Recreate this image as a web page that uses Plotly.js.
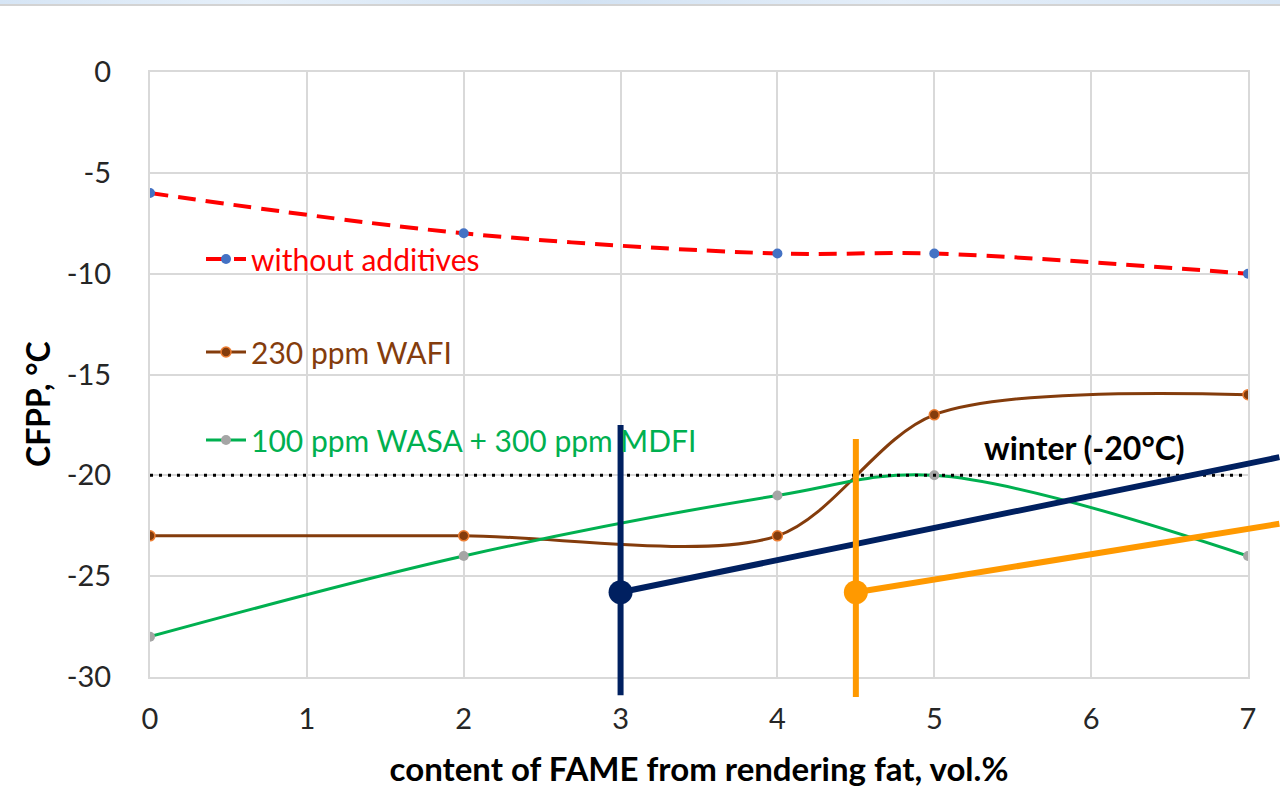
<!DOCTYPE html>
<html><head><meta charset="utf-8">
<script src="https://cdn.plot.ly/plotly-3.0.1.min.js"></script>
<style>
html,body{margin:0;padding:0;background:#fff;overflow:hidden}
#chart{position:absolute;left:0;top:0;width:1280px;height:807px}
#band{position:absolute;left:0;top:0;width:1280px;height:4px;background:linear-gradient(90deg,#d6e5f5,#e6f0fa 20%,#d2e2f3 45%,#e4eef9 70%,#d6e5f5);border-bottom:2px solid #d3d3d3;z-index:5}
</style></head>
<body><div id="chart"></div><div id="band"></div>
<script>
// ---- data ----
const fameX = [0, 2, 4, 5, 7];
const cfppNoAdditives = [-6, -8, -9, -9, -10];
const cfppWAFI = [-23, -23, -23, -17, -16];
const cfppWASA = [-28, -24, -21, -20, -24];
const winterX = [0, 7];
const winterY = [-20, -20];
const navyVertX = [3, 3];
const navyVertY = [-17.5, -30.9];
const navyLineX = [3, 7.2];
const navyLineY = [-25.8, -19.1];
const orangeVertX = [4.5, 4.5];
const orangeVertY = [-18.2, -31];
const orangeLineX = [4.5, 7.2];
const orangeLineY = [-25.8, -22.4];
const xTickVals = [0, 1, 2, 3, 4, 5, 6, 7];
const yTickVals = [0, -5, -10, -15, -20, -25, -30];
const yTickText = ['0', '-5', '-10', '-15', '-20', '-25', '-30'];
const seriesNames = ['without additives', '230 ppm WAFI', '100 ppm WASA + 300 ppm MDFI'];

// ---- geometry (pixels) ----
const W = 1280, H = 807;
const plotL = 150, plotR = 1248, plotT = 72, plotB = 677;
const extR = 1280, extB = 697;
const paperW = extR - plotL, paperH = extB - plotT;
const xMax = 7, yMin = -30;
const xExt = xMax * (extR - plotL) / (plotR - plotL);
const yExt = yMin * (extB - plotT) / (plotB - plotT);

const FONT = 'Lato, "Open Sans", sans-serif';
const txt = '#262626';
const grid = '#d9d9d9';

const traces = [
  {x: fameX, y: cfppNoAdditives, name: '<span style="color:#ff0000">' + seriesNames[0] + '</span>',
   mode: 'lines+markers', line: {color: '#ff0000', width: 4, dash: '18px,10px', shape: 'spline', smoothing: 1},
   marker: {color: '#4472c4', size: 10}, legend: 'legend', xaxis: 'x', yaxis: 'y'},
  {x: fameX, y: cfppWAFI, name: '<span style="color:#843c0c">' + seriesNames[1] + '</span>',
   mode: 'lines+markers', line: {color: '#843c0c', width: 3, shape: 'spline', smoothing: 0.85},
   marker: {color: '#843c0c', size: 10, line: {color: '#ed7d31', width: 1.5}}, legend: 'legend2', xaxis: 'x', yaxis: 'y'},
  {x: fameX, y: cfppWASA, name: '<span style="color:#00b050">' + seriesNames[2] + '</span>',
   mode: 'lines+markers', line: {color: '#00b050', width: 3, shape: 'spline', smoothing: 1},
   marker: {color: '#a5a5a5', size: 10}, legend: 'legend3', xaxis: 'x', yaxis: 'y'},
  {x: winterX, y: winterY, mode: 'lines', line: {color: '#000000', width: 3, dash: '3px,6px'},
   showlegend: false, hoverinfo: 'skip', xaxis: 'x', yaxis: 'y'},
  {x: navyVertX, y: navyVertY, mode: 'lines', line: {color: '#002060', width: 6},
   showlegend: false, hoverinfo: 'skip', xaxis: 'x2', yaxis: 'y2'},
  {x: navyLineX, y: navyLineY, mode: 'lines', line: {color: '#002060', width: 6},
   showlegend: false, hoverinfo: 'skip', xaxis: 'x2', yaxis: 'y2'},
  {x: orangeVertX, y: orangeVertY, mode: 'lines', line: {color: '#ff9900', width: 6},
   showlegend: false, hoverinfo: 'skip', xaxis: 'x2', yaxis: 'y2'},
  {x: orangeLineX, y: orangeLineY, mode: 'lines', line: {color: '#ff9900', width: 6},
   showlegend: false, hoverinfo: 'skip', xaxis: 'x2', yaxis: 'y2'},
  {x: [navyLineX[0]], y: [navyLineY[0]], mode: 'markers', marker: {color: '#002060', size: 24},
   cliponaxis: false, showlegend: false, hoverinfo: 'skip', xaxis: 'x2', yaxis: 'y2'},
  {x: [orangeLineX[0]], y: [orangeLineY[0]], mode: 'markers', marker: {color: '#ff9900', size: 24},
   cliponaxis: false, showlegend: false, hoverinfo: 'skip', xaxis: 'x2', yaxis: 'y2'}
];

function legendAt(py) {
  return {x: (201 - plotL) / paperW, xanchor: 'left', y: (extB - py) / paperH, yanchor: 'middle',
    bgcolor: 'rgba(0,0,0,0)', borderwidth: 0, font: {family: FONT, size: 30}, itemwidth: 40};
}

const layout = {
  width: W, height: H,
  margin: {l: plotL, r: W - extR, t: plotT, b: H - extB},
  paper_bgcolor: '#ffffff', plot_bgcolor: 'rgba(0,0,0,0)',
  font: {family: FONT, color: txt},
  showlegend: true,
  legend: legendAt(259),
  legend2: legendAt(352),
  legend3: legendAt(440),
  xaxis: {
    domain: [0, (plotR - plotL) / paperW], anchor: 'y', range: [0, xMax],
    tickvals: xTickVals, ticks: '', ticklabelstandoff: 15,
    tickfont: {family: FONT, size: 29, color: txt},
    showgrid: true, gridcolor: grid, gridwidth: 2, zeroline: false,
    showline: true, linecolor: grid, linewidth: 2, mirror: true,
    title: {text: '<b>content of FAME from rendering fat, vol.%</b>', font: {family: FONT, size: 33, color: '#000'}, standoff: 24}
  },
  yaxis: {
    domain: [(extB - plotB) / paperH, 1], anchor: 'x', range: [yMin, 0],
    tickvals: yTickVals, ticktext: yTickText, ticks: '', ticklabelstandoff: 31,
    tickfont: {family: FONT, size: 29, color: txt},
    showgrid: true, gridcolor: grid, gridwidth: 2, zeroline: false,
    showline: true, linecolor: grid, linewidth: 2, mirror: true
  },
  xaxis2: {domain: [0, 1], anchor: 'y2', range: [0, xExt], visible: false, fixedrange: true},
  yaxis2: {domain: [0, 1], anchor: 'x2', range: [yExt, 0], visible: false, fixedrange: true},
  annotations: [
    {x: 5.96, y: -18.6, xref: 'x', yref: 'y', text: '<b>winter (-20°C)</b>', showarrow: false,
     font: {family: FONT, size: 32, color: '#000'}},
    {x: (37 - plotL) / paperW, y: (extB - 404) / paperH, xref: 'paper', yref: 'paper',
     text: '<b>CFPP, °C</b>', textangle: -90, showarrow: false, xanchor: 'center', yanchor: 'middle',
     font: {family: FONT, size: 32, color: '#000'}}
  ]
};

Plotly.newPlot('chart', traces, layout, {displayModeBar: false, staticPlot: true});
</script>
</body></html>
